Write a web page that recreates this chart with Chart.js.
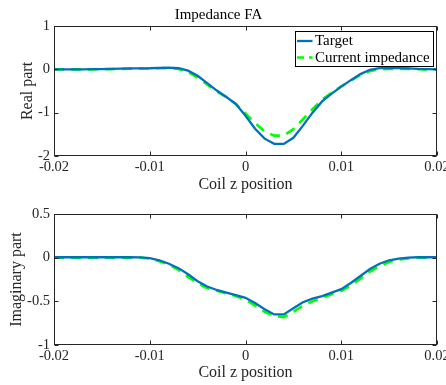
<!DOCTYPE html>
<html>
<head>
<meta charset="utf-8">
<script src="https://cdn.jsdelivr.net/npm/chart.js@4"></script>
<style>
  html, body { margin: 0; padding: 0; background: #fff; }
  #wrap { position: relative; width: 446px; height: 385px; }
  #cReal { position: absolute; left: 0; top: 0; }
  #cImag { position: absolute; left: 0; top: 200px; }
</style>
</head>
<body>
<div id="wrap">
  <canvas id="cReal" width="446" height="200"></canvas>
  <canvas id="cImag" width="446" height="185"></canvas>
</div>
<script>
// Coil z positions (m)
const zPos = [
  -0.020, -0.019, -0.018, -0.017, -0.016, -0.015, -0.014, -0.013, -0.012, -0.011,
  -0.010, -0.009, -0.008, -0.007, -0.006, -0.005, -0.004, -0.003, -0.002, -0.001,
   0.000,  0.001,  0.002,  0.003,  0.004,  0.005,  0.006,  0.007,  0.008,  0.009,
   0.010,  0.011,  0.012,  0.013,  0.014,  0.015,  0.016,  0.017,  0.018,  0.019,
   0.020
];

// Real part of the impedance
const realTarget = [
   0.00,  0.00,  0.00,  0.00,  0.005, 0.005, 0.01,  0.015, 0.02,  0.02,
   0.025, 0.035, 0.04,  0.03, -0.03, -0.15, -0.32, -0.49, -0.64, -0.80,
  -1.07, -1.37, -1.60, -1.72, -1.72, -1.58, -1.30, -1.00, -0.74, -0.56,
  -0.40, -0.25, -0.11, -0.01,  0.03,  0.03,  0.03,  0.02,  0.01,  0.005,
   0.00
];
const realCurrent = [
   0.00,  0.00,  0.00,  0.00,  0.00,  0.005, 0.005, 0.01,  0.015, 0.02,
   0.02,  0.025, 0.03,  0.01, -0.06, -0.19, -0.35, -0.51, -0.64, -0.80,
  -1.02, -1.24, -1.43, -1.53, -1.53, -1.38, -1.15, -0.92, -0.70, -0.54,
  -0.39, -0.26, -0.13, -0.04,  0.00,  0.01,  0.01,  0.01,  0.005, 0.00,
   0.00
];

// Imaginary part of the impedance
const imagTarget = [
   0.005, 0.005, 0.005, 0.005, 0.005, 0.005, 0.005, 0.005, 0.005, 0.003,
  -0.005,-0.03, -0.07, -0.12, -0.19, -0.27, -0.33, -0.37, -0.40, -0.43,
  -0.46, -0.52, -0.59, -0.65, -0.65, -0.58, -0.51, -0.47, -0.44, -0.40,
  -0.36, -0.29, -0.21, -0.13, -0.07, -0.03, -0.01,  0.00,  0.005, 0.005,
   0.005
];
const imagCurrent = [
   0.00,  0.00,  0.00,  0.00,  0.00,  0.00,  0.00,  0.00,  0.00,  0.00,
  -0.01, -0.04, -0.08, -0.14, -0.22, -0.29, -0.35, -0.38, -0.41, -0.44,
  -0.48, -0.55, -0.62, -0.67, -0.68, -0.62, -0.55, -0.50, -0.46, -0.42,
  -0.38, -0.32, -0.24, -0.16, -0.10, -0.05, -0.02, -0.01,  0.00,  0.00,
   0.00
];

const seriesNames = ['Target', 'Current impedance'];
const xTicks = [-0.02, -0.01, 0, 0.01, 0.02];
const xTickLabels = ['-0.02', '-0.01', '0', '0.01', '0.02'];
const realTicks = [1, 0, -1, -2];
const realTickLabels = ['1', '0', '-1', '-2'];
const imagTicks = [0.5, 0, -0.5, -1];
const imagTickLabels = ['0.5', '0', '-0.5', '-1'];

const SERIF = '"Liberation Serif", "Times New Roman", serif';
const AXIS_COLOR = '#262626';
const BLUE = 'rgb(0,114,189)';
const GREEN = '#00ff00';
const DASH = [10, 7];

function pts(ys) { return zPos.map((z, i) => ({ x: z, y: ys[i] })); }

function datasets(a, b) {
  return [
    { label: seriesNames[0], data: pts(a), borderColor: BLUE, borderWidth: 2.3,
      pointRadius: 0, tension: 0, fill: false },
    { label: seriesNames[1], data: pts(b), borderColor: GREEN, borderWidth: 2.6,
      borderDash: DASH, pointRadius: 0, tension: 0, fill: false }
  ];
}

// Box around the axes with inward-pointing tick marks
const boxPlugin = {
  id: 'box',
  afterDatasetsDraw(chart) {
    const { ctx, chartArea: a, scales } = chart;
    const L = Math.round(a.left) + 0.5, R = Math.round(a.right) - 0.5;
    const T = Math.round(a.top) + 0.5, B = Math.round(a.bottom) - 0.5;
    ctx.save();
    ctx.strokeStyle = AXIS_COLOR;
    ctx.lineWidth = 1;
    ctx.strokeRect(L, T, R - L, B - T);
    const len = 4;
    ctx.beginPath();
    scales.x.ticks.forEach(t => {
      const px = Math.round(scales.x.getPixelForValue(t.value)) + 0.5;
      ctx.moveTo(px, B); ctx.lineTo(px, B - len);
      ctx.moveTo(px, T); ctx.lineTo(px, T + len);
    });
    scales.y.ticks.forEach(t => {
      const py = Math.round(scales.y.getPixelForValue(t.value)) + 0.5;
      ctx.moveTo(L, py); ctx.lineTo(L + len, py);
      ctx.moveTo(R, py); ctx.lineTo(R - len, py);
    });
    ctx.stroke();
    ctx.restore();
  }
};

// Boxed legend in the upper right corner of the axes
const boxLegend = {
  id: 'boxLegend',
  afterDraw(chart, args, opts) {
    if (!opts.show) return;
    const { ctx } = chart;
    const x0 = 295.5, y0 = 31.5, w = 138, h = 35;
    ctx.save();
    ctx.fillStyle = '#fff';
    ctx.fillRect(x0, y0, w, h);
    ctx.strokeStyle = '#000';
    ctx.lineWidth = 1;
    ctx.strokeRect(x0, y0, w, h);
    ctx.font = '15px ' + SERIF;
    ctx.textBaseline = 'middle';
    ctx.textAlign = 'left';
    chart.data.datasets.forEach((ds, i) => {
      const y = y0 + 9.5 + i * 16.5;
      ctx.beginPath();
      ctx.strokeStyle = ds.borderColor;
      ctx.lineWidth = ds.borderWidth;
      ctx.setLineDash(ds.borderDash ? [7, 5] : []);
      ctx.moveTo(x0 + 1.5, y); ctx.lineTo(x0 + 17, y);
      ctx.stroke();
      ctx.setLineDash([]);
      ctx.fillStyle = '#000';
      ctx.fillText(ds.label, x0 + 19.5, y + 0.5);
    });
    ctx.restore();
  }
};

function makeChart(id, a, b, opt) {
  return new Chart(document.getElementById(id), {
    type: 'line',
    data: { datasets: datasets(a, b) },
    plugins: [boxPlugin, boxLegend],
    options: {
      responsive: false,
      animation: false,
      layout: { padding: { top: opt.padTop, right: 9, left: 0, bottom: 0 } },
      plugins: {
        legend: { display: false },
        tooltip: { enabled: false },
        boxLegend: { show: opt.legend },
        title: {
          display: !!opt.title,
          text: opt.title || '',
          color: '#000',
          font: { family: SERIF, size: 15, weight: 'normal', lineHeight: 1.2 },
          padding: { top: 6, bottom: 2 }
        }
      },
      scales: {
        x: {
          type: 'linear',
          min: xTicks[0], max: xTicks[xTicks.length - 1],
          afterBuildTicks(s) { s.ticks = xTicks.map(v => ({ value: v })); },
          afterFit(s) { s.height = opt.xHeight; s.paddingLeft = 0; s.paddingRight = 0; },
          grid: { display: false, drawTicks: false },
          border: { display: false },
          ticks: {
            color: AXIS_COLOR, padding: 2, maxRotation: 0, autoSkip: false,
            font: { family: SERIF, size: 14.5 },
            callback: (v) => xTickLabels[xTicks.indexOf(v)]
          },
          title: {
            display: true, text: 'Coil z position', color: AXIS_COLOR,
            font: { family: SERIF, size: 16, lineHeight: 1.2 },
            padding: { top: 0, bottom: opt.xTitlePad }
          }
        },
        y: {
          min: opt.yTicks[opt.yTicks.length - 1], max: opt.yTicks[0],
          afterBuildTicks(s) { s.ticks = opt.yTicks.map(v => ({ value: v })); },
          afterFit(s) { s.width = 54; s.paddingTop = 0; s.paddingBottom = 0; },
          grid: { display: false, drawTicks: false },
          border: { display: false },
          ticks: {
            color: AXIS_COLOR, padding: 4,
            font: { family: SERIF, size: 14.5 },
            callback: (v) => opt.yLabels[opt.yTicks.indexOf(v)]
          },
          title: {
            display: true, text: opt.yTitle, color: AXIS_COLOR,
            font: { family: SERIF, size: 16, lineHeight: 1.2 },
            padding: { top: opt.yTitlePad, bottom: 0 }
          }
        }
      }
    }
  });
}

makeChart('cReal', realTarget, realCurrent, {
  title: 'Impedance FA', padTop: 0, xHeight: 44, xTitlePad: 5.5,
  yTicks: realTicks, yLabels: realTickLabels, yTitle: 'Real part', yTitlePad: 18, legend: true
});
makeChart('cImag', imagTarget, imagCurrent, {
  title: '', padTop: 14, xHeight: 40, xTitlePad: 2.5,
  yTicks: imagTicks, yLabels: imagTickLabels, yTitle: 'Imaginary part', yTitlePad: 7.5, legend: false
});
</script>
</body>
</html>
